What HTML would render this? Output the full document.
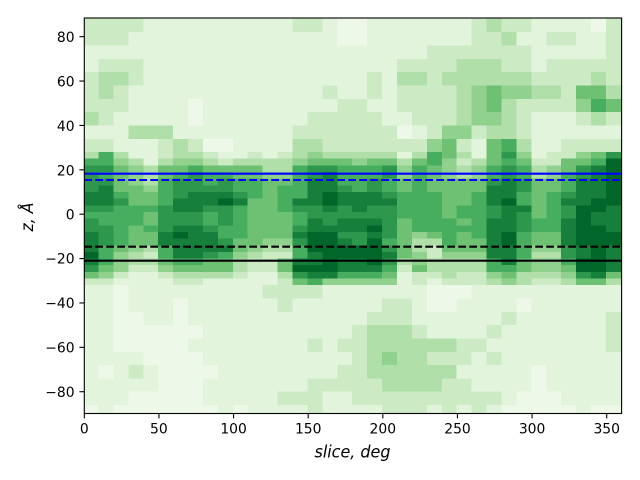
<!DOCTYPE html>
<html><head><meta charset="utf-8"><style>
html,body{margin:0;padding:0;background:#fff;}
svg{display:block;}
text{font-family:"DejaVu Sans","Liberation Sans",sans-serif;fill:#000;}
</style></head><body>
<svg id="s" width="640" height="480" viewBox="0 0 640 480" xmlns="http://www.w3.org/2000/svg">
<rect x="0" y="0" width="640" height="480" fill="#fff"/>
<!-- fallback background -->
<rect x="84.3" y="18" width="537.3" height="138" fill="#dff2da"/>
<rect x="84.3" y="156" width="537.3" height="128" fill="#3a9f55"/>
<rect x="84.3" y="284" width="537.3" height="129.5" fill="#e3f4de"/>
<g id="hm" shape-rendering="crispEdges"></g>
<!-- horizontal lines -->
<line x1="84.3" x2="621.6" y1="173.7" y2="173.7" stroke="#0000ff" stroke-width="2.08"/>
<line x1="84.3" x2="621.6" y1="180.0" y2="180.0" stroke="#0000ff" stroke-width="2.08" stroke-dasharray="7.7 3.3"/>
<line x1="84.3" x2="621.6" y1="246.7" y2="246.7" stroke="#000" stroke-width="2.08" stroke-dasharray="7.7 3.3"/>
<line x1="84.3" x2="621.6" y1="260.7" y2="260.7" stroke="#000" stroke-width="2.08"/>
<!-- spines -->
<rect x="84.3" y="18" width="537.3" height="395.5" fill="none" stroke="#000" stroke-width="1.1"/>
<g id="ticks" stroke="#000" stroke-width="1.1"></g>
<g font-size="13.9" text-anchor="end">
<text x="74.6" y="42.2">80</text>
<text x="74.6" y="86.6">60</text>
<text x="74.6" y="131.0">40</text>
<text x="74.6" y="175.4">20</text>
<text x="74.6" y="219.3">0</text>
<text x="74.6" y="263.6">−20</text>
<text x="74.6" y="308.0">−40</text>
<text x="74.6" y="352.4">−60</text>
<text x="74.6" y="396.8">−80</text>
</g>
<g font-size="13.9" text-anchor="middle">
<text x="84.3" y="433.6">0</text>
<text x="158.9" y="433.6">50</text>
<text x="233.6" y="433.6">100</text>
<text x="308.2" y="433.6">150</text>
<text x="382.8" y="433.6">200</text>
<text x="457.5" y="433.6">250</text>
<text x="532.1" y="433.6">300</text>
<text x="606.7" y="433.6">350</text>
</g>
<text x="352.5" y="457.5" font-size="16.7" font-style="italic" text-anchor="middle" textLength="76" lengthAdjust="spacingAndGlyphs">slice, deg</text>
<text transform="translate(33,217) rotate(-90)" font-size="16.7" font-style="italic" text-anchor="middle" textLength="29" lengthAdjust="spacingAndGlyphs">z, Å</text>
</svg>
<script>
(function(){
var stops=[[247,252,245],[229,245,224],[199,233,192],[161,217,155],[116,196,118],[65,171,93],[35,139,69],[0,109,44],[0,68,27]];
function cmap(v){v=Math.max(0,Math.min(1,v));var t=v*8;var i=Math.min(7,Math.floor(t));var f=t-i;var a=stops[i],b=stops[i+1];
return 'rgb('+Math.round(a[0]+(b[0]-a[0])*f)+','+Math.round(a[1]+(b[1]-a[1])*f)+','+Math.round(a[2]+(b[2]-a[2])*f)+')';}
function dv(d){return d==0?0.07:0.04+0.095*d;}
function X(deg){return 84.3+deg*1.4926;}
function Y(z){return 214.2-z*2.219;}
var data=[
"2211222312"+"36777788767788898752"+"1111111110",
"2212332212"+"66767888766777666542"+"1111110111",
"2212322111"+"34555567666666544421"+"0000011110",
"2112211131"+"13444555666555433211"+"1100012100",
"1111111131"+"11333455655655323211"+"1110001100",
"1111111132"+"23556666777788665421"+"1110000000",
"1111111113"+"34567778877898886532"+"1000000000",
"1111110012"+"34677788877888886532"+"1110100000",
"1111111110"+"23566788766788875531"+"1111110110",
"1111111110"+"12567789777667865531"+"1111111111",
"1111111111"+"13556678666665543321"+"1111111110",
"1111111111"+"23556665555555432211"+"1111111111",
"1111111111"+"13345555555554322211"+"2111111111",
"1111111111"+"23345666655554325532"+"2211111121",
"2111111123"+"34666668766787668975"+"2111111121",
"2111111223"+"45778888778899988986"+"2111211222",
"1111121222"+"35788899877899999984"+"1111111211",
"0011112222"+"35666788778878998864"+"1111212211",
"0011112222"+"34666688878877998864"+"1112222221",
"1111221222"+"35667788778989999864"+"1123333221",
"1111111122"+"35776678777776787654"+"1223343322",
"1112322102"+"13445566665555553211"+"1223333322",
"1112322212"+"35666666666643344522"+"1112333322",
"1122222224"+"66555566666653223321"+"0011323321",
"1122322245"+"54445555556666543332"+"0011323222",
"1123333342"+"32335555665655543322"+"0111221221",
"2223344421"+"13445566666665543322"+"1111211122",
"3223355435"+"55667888778888886643"+"1112121121",
"2322343336"+"76778889888899888654"+"1121111110",
"2122342223"+"45667766877766665533"+"1011111100",
"1111232111"+"12335555556655434432"+"1111110000",
"1212232111"+"22445566666655434432"+"1111111100",
"1212222112"+"25566678778888776543"+"1111111110",
"1112254212"+"45778888999999889975"+"1111111111",
"0112356312"+"56888889988999999985"+"1111111110",
"2222235212"+"79999999888899888853"+"1122211110"
];
var edges=[88.4,82,76,70,64,58,52,46,40,34];
for(var z=28;z>=-32;z-=3)edges.push(z);
[-38,-44,-50,-56,-62,-68,-74,-80,-86,-89.8].forEach(function(e){edges.push(e);});
var ns='http://www.w3.org/2000/svg';
var g=document.getElementById('hm');
for(var i=0;i<36;i++){
  var x0=X(Math.max(0,10*i-0.5)),x1=X(i==35?360:10*i+9.5);
  var s=data[i];
  for(var j=0;j<40;j++){
    var y0=Y(edges[j]),y1=Y(edges[j+1]);
    var r=document.createElementNS(ns,'rect');
    r.setAttribute('x',x0.toFixed(2));r.setAttribute('y',y0.toFixed(2));
    r.setAttribute('width',(x1-x0+0.6).toFixed(2));r.setAttribute('height',(y1-y0+0.6).toFixed(2));
    r.setAttribute('fill',cmap(dv(parseInt(s.charAt(j)))));
    g.appendChild(r);
  }
}
var t=document.getElementById('ticks');
[80,60,40,20,0,-20,-40,-60,-80].forEach(function(v){var l=document.createElementNS(ns,'line');var y=Y(v);
l.setAttribute('x1',79.4);l.setAttribute('x2',84.3);l.setAttribute('y1',y);l.setAttribute('y2',y);t.appendChild(l);});
[0,50,100,150,200,250,300,350].forEach(function(v){var l=document.createElementNS(ns,'line');var x=X(v);
l.setAttribute('x1',x);l.setAttribute('x2',x);l.setAttribute('y1',413.5);l.setAttribute('y2',418.4);t.appendChild(l);});
})();
</script>
</body></html>
